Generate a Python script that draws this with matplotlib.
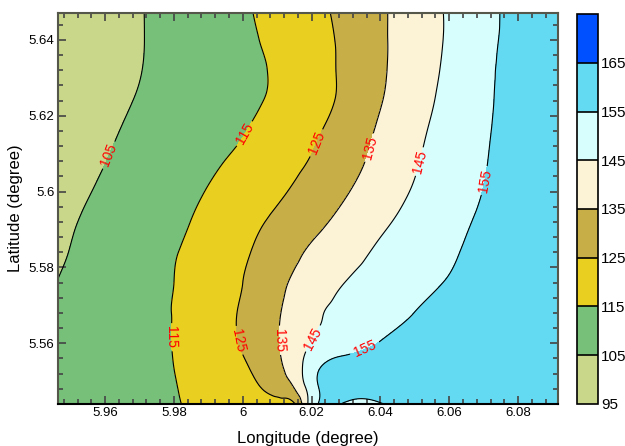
import numpy as np
import matplotlib
matplotlib.use('Agg')
import matplotlib.pyplot as plt
import matplotlib.tri as mtri
from matplotlib.ticker import MultipleLocator, FormatStrFormatter

plt.rcParams['font.family'] = ['Liberation Sans', 'DejaVu Sans']

# grid (extra column at 6.015 for the bottom fan)
lon = [5.94, 5.95, 5.96, 5.97, 5.98, 5.99, 6.00, 6.01, 6.015, 6.02,
       6.03, 6.04, 6.05, 6.06, 6.07, 6.08, 6.09, 6.10]
lat = [5.544, 5.552, 5.560, 5.568, 5.576, 5.584, 5.592,
       5.600, 5.608, 5.616, 5.624, 5.632, 5.640, 5.648]
z = [
    [104.0, 106.6, 109.2, 111.7, 114.3, 117.1, 119.9, 123.0, 124.2, 150.0, 154.0, 154.6, 157.5, 159.8, 161.3, 162.4, 163.1, 163.7],
    [104.6, 107.2, 109.8, 112.3, 114.9, 119.0, 123.2, 131.9, 139.5, 151.5, 161.0, 160.8, 161.2, 161.9, 162.4, 162.9, 163.3, 163.8],
    [104.6, 107.2, 109.8, 112.5, 115.3, 120.4, 125.7, 134.3, 140.0, 145.4, 150.6, 155.5, 158.3, 160.2, 161.4, 162.3, 163.0, 163.8],
    [104.1, 106.9, 109.6, 112.4, 115.3, 120.5, 126.1, 134.1, 138.4, 142.7, 147.7, 151.4, 155.1, 158.1, 160.0, 161.4, 162.8, 163.7],
    [103.2, 106.2, 109.1, 112.1, 115.0, 120.0, 125.0, 132.6, 136.2, 139.2, 145.2, 148.7, 152.2, 155.6, 158.5, 160.7, 162.5, 163.6],
    [102.2, 105.2, 108.3, 111.4, 114.5, 118.9, 123.7, 130.0, 133.3, 136.3, 141.6, 146.4, 150.1, 153.8, 157.5, 160.1, 162.2, 163.5],
    [101.4, 104.4, 107.4, 110.4, 113.4, 117.1, 121.8, 126.8, 129.5, 132.3, 137.8, 143.3, 148.0, 152.2, 156.4, 159.6, 162.0, 163.4],
    [100.1, 103.1, 106.2, 109.2, 112.3, 115.4, 119.6, 123.7, 126.0, 128.8, 134.4, 140.2, 145.8, 150.5, 155.2, 159.2, 161.8, 163.3],
    [99.2, 102.1, 104.9, 107.8, 110.6, 113.5, 117.0, 121.2, 123.3, 125.6, 131.6, 137.8, 144.2, 149.4, 154.4, 158.9, 161.6, 163.2],
    [98.6, 101.3, 103.9, 106.6, 109.3, 111.9, 114.6, 118.9, 121.1, 123.4, 129.4, 136.3, 142.9, 148.5, 153.8, 158.7, 161.5, 163.2],
    [97.7, 100.3, 102.9, 105.5, 108.1, 110.7, 113.3, 116.6, 119.1, 121.5, 127.1, 134.5, 141.3, 147.6, 153.3, 158.6, 161.5, 163.2],
    [96.7, 99.4, 102.1, 104.8, 107.5, 110.2, 112.9, 116.2, 118.8, 121.3, 126.8, 133.7, 140.3, 146.7, 152.8, 158.6, 161.5, 163.2],
    [96.5, 98.8, 101.7, 104.6, 107.5, 110.5, 113.4, 117.1, 119.4, 121.7, 126.9, 133.6, 139.9, 146.1, 152.3, 158.1, 161.2, 163.0],
    [96.5, 98.3, 101.5, 104.6, 107.7, 110.9, 114.0, 118.0, 120.3, 122.5, 127.6, 133.7, 139.9, 146.1, 152.2, 157.8, 161.0, 163.0],
]

levels = [95, 105, 115, 125, 135, 145, 155, 165, 175]
band_colors = ['#c9d78b', '#76c07a', '#e9cf1f', '#c8ae46',
               '#fcf2d6', '#d8fdfd', '#64daf2', '#0050ff']
label_levels = [105, 115, 125, 135, 145, 155]

# where the red labels sit
label_pos = [(5.9614, 5.6095), (6.0006, 5.6153), (5.9794, 5.5616),
             (6.0218, 5.6127), (5.9992, 5.5608), (6.0369, 5.6116),
             (6.0108, 5.5608), (6.0500, 5.6082), (6.0201, 5.5614),
             (6.0703, 5.6029), (6.0355, 5.5587)]

X, Y = np.meshgrid(lon, lat)
tri = mtri.Triangulation(X.ravel(), Y.ravel())
refiner = mtri.UniformTriRefiner(tri)
tri_f, z_f = refiner.refine_field(np.array(z).ravel(), subdiv=4)

fig = plt.figure(figsize=(6.25, 4.46), dpi=100)
ax = fig.add_axes([0.0928, 0.0942, 0.80, 0.8767])
cax = fig.add_axes([0.9232, 0.0942, 0.0336, 0.8744])

cf = ax.tricontourf(tri_f, z_f, levels=levels, colors=band_colors)
cs = ax.tricontour(tri_f, z_f, levels=label_levels, colors='k', linewidths=0.8)
ax.clabel(cs, levels=label_levels, manual=label_pos, fmt='%d', colors='red',
          fontsize=10, inline=True, inline_spacing=3)

ax.set_xlim(5.9463, 6.0916)
ax.set_ylim(5.544, 5.6471)
ax.xaxis.set_major_locator(MultipleLocator(0.02))
ax.xaxis.set_minor_locator(MultipleLocator(0.004))
ax.yaxis.set_major_locator(MultipleLocator(0.02))
ax.yaxis.set_minor_locator(MultipleLocator(0.004))
ax.xaxis.set_major_formatter(FormatStrFormatter('%g'))
ax.yaxis.set_major_formatter(FormatStrFormatter('%g'))
ax.tick_params(which='both', direction='in', top=True, right=True,
               labelsize=9.5, color='#444444', width=1.2, pad=2.5)
ax.tick_params(which='major', length=6)
ax.tick_params(which='minor', length=3.5)
for s in ax.spines.values():
    s.set_color('#55574a')
    s.set_linewidth(1.5)
ax.spines['bottom'].set_color('black')
ax.set_xlabel('Longitude (degree)', fontsize=12, labelpad=8)
ax.set_ylabel('Latitude (degree)', fontsize=12, labelpad=4)

cb = fig.colorbar(cf, cax=cax, ticks=levels[:-1], drawedges=True)
cb.ax.tick_params(length=0, labelsize=11, pad=2)
cb.outline.set_linewidth(1.2)
cb.dividers.set_linewidth(1.2)

fig.savefig('out.png', dpi=100)
